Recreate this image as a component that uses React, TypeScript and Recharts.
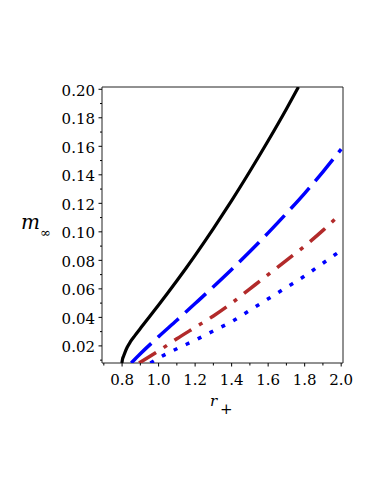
import React from "react";
import { LineChart, Line, XAxis, YAxis, ReferenceArea } from "recharts";

// r+ values and m_inf values for each curve
const blackX = [0.799, 0.802, 0.808, 0.816, 0.828, 0.845, 0.87, 0.9, 0.95, 1.0, 1.05, 1.1, 1.15, 1.2, 1.25, 1.3, 1.35, 1.4, 1.5, 1.6, 1.7, 1.766];
const blackY = [0.008, 0.0105, 0.0128, 0.0155, 0.019, 0.0228, 0.0272, 0.0322, 0.0405, 0.0487, 0.0571, 0.0657, 0.0745, 0.0835, 0.0928, 0.1023, 0.112, 0.1219, 0.1425, 0.1639, 0.1862, 0.2016];

const dashX = [0.85, 0.9, 1.0, 1.1, 1.2, 1.3, 1.4, 1.5, 1.6, 1.7, 1.8, 1.9, 2.0];
const dashY = [0.008, 0.0145, 0.0265, 0.038, 0.0497, 0.0615, 0.0736, 0.0862, 0.0993, 0.1129, 0.127, 0.1421, 0.158];

const dashDotX = [0.893, 1.0, 1.1, 1.2, 1.3, 1.4, 1.5, 1.6, 1.7, 1.8, 1.9, 2.0];
const dashDotY = [0.008, 0.0165, 0.025, 0.033, 0.041, 0.05, 0.06, 0.07, 0.08, 0.09, 0.101, 0.113];

const dotX = [0.955, 1.0, 1.1, 1.2, 1.3, 1.4, 1.5, 1.6, 1.7, 1.8, 1.9, 2.0];
const dotY = [0.008, 0.0115, 0.018, 0.024, 0.0305, 0.037, 0.045, 0.053, 0.061, 0.069, 0.078, 0.087];

const xTicks = [0.7, 0.8, 0.9, 1.0, 1.1, 1.2, 1.3, 1.4, 1.5, 1.6, 1.7, 1.8, 1.9, 2.0];
const yTicks = [0.01, 0.02, 0.03, 0.04, 0.05, 0.06, 0.07, 0.08, 0.09, 0.1, 0.11, 0.12, 0.13, 0.14, 0.15, 0.16, 0.17, 0.18, 0.19, 0.2];

const X_DOMAIN: [number, number] = [0.69, 2.01];
const Y_DOMAIN: [number, number] = [0.008, 0.2016];

const zip = (xs: number[], ys: number[]) => xs.map((x, i) => ({ x, y: ys[i] }));
const blackData = zip(blackX, blackY);
const dashData = zip(dashX, dashY);
const dashDotData = zip(dashDotX, dashDotY);
const dotData = zip(dotX, dotY);

const FONT = "DejaVu Serif";

const YTick = (props: any) => {
  const { x, y, payload } = props;
  const v = payload.value as number;
  const major = Math.round(v * 100) % 2 === 0;
  return (
    <g>
      <line x1={x - (major ? 3.5 : 2)} x2={x} y1={y} y2={y} stroke="#000" strokeWidth={1} />
      {major && (
        <text x={x - 7} y={y + 6.5} textAnchor="end" fontFamily={FONT} fontSize={15} fill="#000">
          {v.toFixed(2)}
        </text>
      )}
    </g>
  );
};

const XTick = (props: any) => {
  const { x, y, payload } = props;
  const v = payload.value as number;
  const major = Math.round(v * 10) % 2 === 0;
  return (
    <g>
      <line x1={x} x2={x} y1={y} y2={y + (major ? 3.5 : 2.5)} stroke="#000" strokeWidth={1} />
      {major && (
        <text x={x} y={y + 21.5} textAnchor="middle" fontFamily={FONT} fontSize={15} fill="#000">
          {v.toFixed(1)}
        </text>
      )}
    </g>
  );
};

export default function App() {
  return (
    <div style={{ position: "absolute", left: 0, top: 0, width: 382, height: 494, background: "#fff" }}>
      <LineChart width={382} height={494} margin={{ top: 87, right: 39, left: 0, bottom: 0 }}>
        <XAxis
          type="number"
          dataKey="x"
          domain={X_DOMAIN}
          ticks={xTicks}
          allowDataOverflow
          axisLine={false}
          tickLine={false}
          tickSize={0}
          tickMargin={0}
          height={131}
          interval={0}
          tick={<XTick />}
        />
        <YAxis
          type="number"
          dataKey="y"
          domain={Y_DOMAIN}
          ticks={yTicks}
          allowDataOverflow
          axisLine={false}
          tickLine={false}
          tickSize={0}
          tickMargin={0}
          width={102}
          interval={0}
          tick={<YTick />}
        />
        <ReferenceArea
          x1={X_DOMAIN[0]}
          x2={X_DOMAIN[1]}
          y1={Y_DOMAIN[0]}
          y2={Y_DOMAIN[1]}
          fill="none"
          stroke="#222"
          strokeWidth={1}
        />
        <Line data={blackData} dataKey="y" type="monotone" stroke="#000" strokeWidth={3.2} dot={false} isAnimationActive={false} />
        <Line data={dashData} dataKey="y" type="monotone" stroke="#0000ff" strokeWidth={3.5} strokeDasharray="28 9" dot={false} isAnimationActive={false} />
        <Line data={dashDotData} dataKey="y" type="monotone" stroke="#b22a2a" strokeWidth={3.5} strokeDasharray="20 9 4 9" dot={false} isAnimationActive={false} />
        <Line data={dotData} dataKey="y" type="monotone" stroke="#0000ff" strokeWidth={3.5} strokeDasharray="4 9.3" dot={false} isAnimationActive={false} />
      </LineChart>
      <svg width={382} height={494} style={{ position: "absolute", left: 0, top: 0, pointerEvents: "none" }}>
        <text x={21} y={229} fontFamily={FONT} fontStyle="italic" fontSize={20} fill="#000">m</text>
        <text x={40} y={237} fontFamily={FONT} fontSize={13} fill="#000">∞</text>
        <text x={210} y={406} fontFamily={FONT} fontStyle="italic" fontSize={15} fill="#000">r</text>
        <text x={220} y={414} fontFamily={FONT} fontSize={15} fill="#000">+</text>
      </svg>
    </div>
  );
}
